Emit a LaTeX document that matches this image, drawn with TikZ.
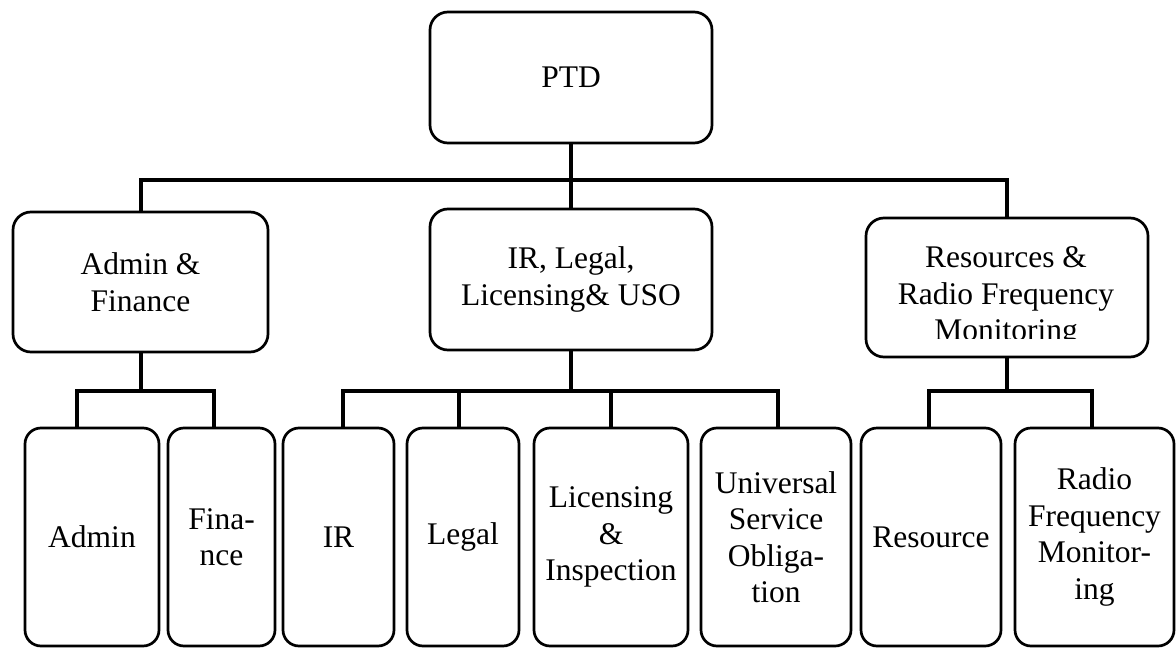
\documentclass[tikz,border=0pt]{standalone}
\usepackage{fontspec}
\setmainfont{Liberation Serif}
\begin{document}
\begin{tikzpicture}[x=1pt,y=-1pt,
  box/.style={draw=black,line width=2.7pt,rounded corners=18pt,inner sep=0pt,align=center,
    font=\fontsize{31.5}{36.5}\selectfont},
  leaf/.style={box,rounded corners=16pt,minimum height=218pt},
  conn/.style={draw=black,line width=4pt},
  txt/.style={inner sep=0pt,align=center,font=\fontsize{31.5}{36.5}\selectfont}]
\useasboundingbox (0,0) rectangle (1176,648);
% top
\node[box,minimum width=282pt,minimum height=131pt] (ptd) at (571,77.5) {PTD};
% level 1
\node[box,minimum width=255pt,minimum height=140pt] (af) at (140.5,282) {Admin \&\\Finance};
\node[box,minimum width=282pt,minimum height=141pt] (mid) at (571,279.5) {IR, Legal,\\Licensing\& USO};
\node[box,minimum width=282pt,minimum height=139pt] (res) at (1007,287.5) {};
\begin{scope}
  \clip (860,210) rectangle (1160,338.5);
  \node[txt] (restext) at (1006,297) {Resources \&\\Radio Frequency\\Monitoring};
\end{scope}
% level 2
\node[leaf,minimum width=134pt] (admin) at (92,537) {Admin};
\node[leaf,minimum width=107pt] (fin) at (221.5,537) {Fina-\\nce};
\node[leaf,minimum width=111pt] (ir) at (338.5,537) {IR};
\node[leaf,minimum width=112pt] (legal) at (463,537) {Legal};
\node[leaf,minimum width=154pt] (lic) at (611,537) {Licensing\\\&\\Inspection};
\node[leaf,minimum width=150pt] (uso) at (776,537) {Universal\\Service\\Obliga-\\tion};
\node[leaf,minimum width=140pt] (resource) at (931,537) {Resource};
\node[leaf,minimum width=159pt] (rfm) at (1094.5,537) {Radio\\Frequency\\Monitor-\\ing};
% bars
\coordinate (bar1) at (0,180);
\coordinate (bar2) at (0,391);
\coordinate (tadmin) at (77,391);
\coordinate (tfin) at (214,391);
\coordinate (tir) at (343,391);
\coordinate (tlegal) at (459,391);
\coordinate (tlic) at (611,391);
\coordinate (tuso) at (778,391);
\coordinate (tresource) at (929,391);
\coordinate (trfm) at (1092,391);
% connectors level 0-1
\draw[conn] (ptd.south) -- (mid.north);
\draw[conn] (af.north) |- (bar1 -| res.north) -- (res.north);
% Admin & Finance group
\draw[conn] (af.south) -- (af.south |- bar2);
\draw[conn] (admin.north -| tadmin) |- (tfin) -- (fin.north -| tfin);
% middle group
\draw[conn] (mid.south) -- (mid.south |- bar2);
\draw[conn] (ir.north -| tir) |- (tuso) -- (uso.north -| tuso);
\draw[conn] (tlegal) -- (legal.north -| tlegal);
\draw[conn] (tlic) -- (lic.north -| tlic);
% resources group
\draw[conn] (res.south) -- (res.south |- bar2);
\draw[conn] (resource.north -| tresource) |- (trfm) -- (rfm.north -| trfm);
\end{tikzpicture}
\end{document}
